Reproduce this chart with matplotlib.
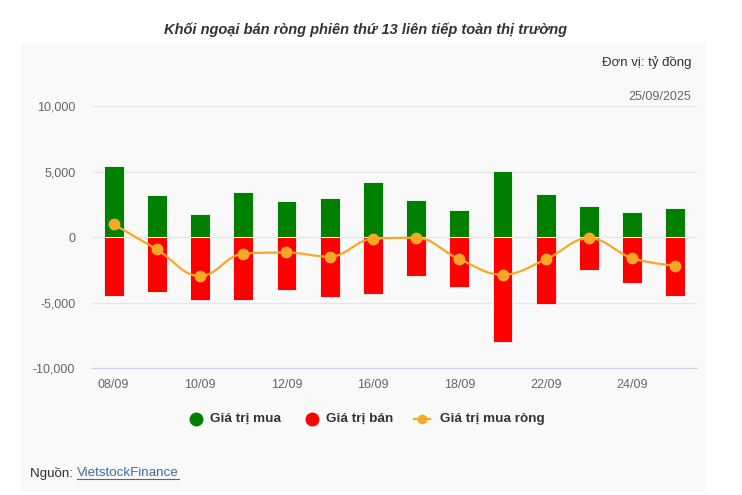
import matplotlib.pyplot as plt
import numpy as np
from matplotlib.patches import Rectangle
from matplotlib.path import Path
from matplotlib.patches import PathPatch
from matplotlib.lines import Line2D

plt.rcParams['font.family'] = ['Liberation Sans', 'DejaVu Sans']

# data (ty dong)
dates = ['08/09', '09/09', '10/09', '11/09', '12/09', '15/09', '16/09',
         '17/09', '18/09', '19/09', '22/09', '23/09', '24/09', '25/09']
buy = [5440, 3200, 1730, 3460, 2770, 3020, 4240, 2870, 2090, 5080, 3280, 2410, 1900, 2190]
sell = [-4490, -4160, -4770, -4780, -4010, -4590, -4340, -2970, -3810, -8020, -5100, -2540, -3470, -4490]
net = [970, -940, -2970, -1260, -1170, -1490, -120, -50, -1680, -2860, -1700, -80, -1600, -2180]
yticks = [-10000, -5000, 0, 5000, 10000]

W, H = 742, 495
GREEN = '#008000'
RED = '#ff0000'
ORANGE = '#f7a825'


def fx(px):
    return px / W


def fy(py):
    return 1 - py / H


def spline_path(xs, ys, smoothing=1.5):
    # highcharts style spline through the points
    n = len(xs)
    left = [(xs[i], ys[i]) for i in range(n)]
    right = [(xs[i], ys[i]) for i in range(n)]
    denom = smoothing + 1
    for i in range(1, n - 1):
        px, py = xs[i], ys[i]
        lx, ly = xs[i - 1], ys[i - 1]
        nx, ny = xs[i + 1], ys[i + 1]
        lcx = (smoothing * px + lx) / denom
        lcy = (smoothing * py + ly) / denom
        rcx = (smoothing * px + nx) / denom
        rcy = (smoothing * py + ny) / denom
        if rcx != lcx:
            corr = ((rcy - lcy) * (rcx - px)) / (rcx - lcx) + py - rcy
            lcy += corr
            rcy += corr
        if lcy > ly and lcy > py:
            lcy = max(ly, py)
            rcy = 2 * py - lcy
        elif lcy < ly and lcy < py:
            lcy = min(ly, py)
            rcy = 2 * py - lcy
        if rcy > ny and rcy > py:
            rcy = max(ny, py)
            lcy = 2 * py - rcy
        elif rcy < ny and rcy < py:
            rcy = min(ny, py)
            lcy = 2 * py - rcy
        left[i] = (lcx, lcy)
        right[i] = (rcx, rcy)
    verts = [(xs[0], ys[0])]
    codes = [Path.MOVETO]
    for i in range(1, n):
        verts += [right[i - 1], left[i], (xs[i], ys[i])]
        codes += [Path.CURVE4] * 3
    return Path(verts, codes)


fig = plt.figure(figsize=(W / 100, H / 100), dpi=100)
fig.patch.set_facecolor('white')

# grey panel behind the chart
fig.patches.append(Rectangle((fx(21), fy(492)), fx(706) - fx(21), fy(43) - fy(492),
                             transform=fig.transFigure, facecolor='#f9f9f9',
                             edgecolor='none', zorder=-10))

ax = fig.add_axes([fx(92), fy(368.3), fx(697) - fx(92), fy(106) - fy(368.3)])
ax.set_facecolor('none')
ax.set_zorder(1)

x = np.arange(len(dates))
ax.bar(x, buy, width=0.46, color=GREEN, edgecolor='white', linewidth=0.6, zorder=3)
ax.bar(x, sell, width=0.46, color=RED, edgecolor='white', linewidth=0.6, zorder=3)

ax.add_patch(PathPatch(spline_path(list(x), net), facecolor='none', edgecolor=ORANGE,
                       linewidth=1.6, zorder=4))
ax.plot(x, net, 'o', color=ORANGE, markersize=7.5, zorder=5)

ax.set_xlim(-0.5, len(dates) - 0.5)
ax.set_ylim(-10000, 10000)
ax.set_yticks(yticks)
ax.set_yticklabels([f'{v:,}' for v in yticks])
ax.set_xticks(x[::2])
ax.set_xticklabels(dates[::2])
for v in yticks[1:]:
    ax.axhline(v, color='#e6e6e6', linewidth=1, zorder=1)
for s in ['top', 'right', 'left']:
    ax.spines[s].set_visible(False)
ax.spines['bottom'].set_color('#ccd6eb')
ax.spines['bottom'].set_linewidth(1)
ax.tick_params(axis='both', length=0, labelsize=9, colors='#666666')
ax.tick_params(axis='y', pad=12)
ax.tick_params(axis='x', pad=8)

# texts
fig.text(fx(366), fy(30), 'Khối ngoại bán ròng phiên thứ 13 liên tiếp toàn thị trường',
         ha='center', va='center', fontsize=10.5, fontweight='bold', fontstyle='italic',
         color='#333333')
fig.text(fx(691), fy(63), 'Đơn vị: tỷ đồng', ha='right', va='center', fontsize=9.5,
         color='#333333')
fig.text(fx(691), fy(97), '25/09/2025', ha='right', va='center', fontsize=9,
         color='#666666')

# legend
legend_items = [(196, GREEN, 'Giá trị mua', 'dot'),
                (312, RED, 'Giá trị bán', 'dot'),
                (422, ORANGE, 'Giá trị mua ròng', 'line')]
for px, col, label, kind in legend_items:
    if kind == 'dot':
        fig.add_artist(Line2D([fx(px)], [fy(419)], marker='o', markersize=9, color=col,
                              linestyle='none', transform=fig.transFigure))
        tx = px + 14
    else:
        fig.add_artist(Line2D([fx(px - 8), fx(px + 8)], [fy(419), fy(419)], color=col,
                              linewidth=1.6, marker=None, transform=fig.transFigure))
        fig.add_artist(Line2D([fx(px)], [fy(419)], marker='o', markersize=6, color=col,
                              linestyle='none', transform=fig.transFigure))
        tx = px + 18
    fig.text(fx(tx), fy(419), label, ha='left', va='center', fontsize=9.7,
             fontweight='bold', color='#333333')

# source
t = fig.text(fx(30), fy(473), 'Nguồn: ', ha='left', va='center', fontsize=9.6,
             color='#333333')
fig.canvas.draw()
bb = t.get_window_extent()
t2 = fig.text(bb.x1 / W, fy(473), 'VietstockFinance', ha='left', va='center',
              fontsize=9.6, color='#3a6ea5')
bb2 = t2.get_window_extent(renderer=fig.canvas.get_renderer())
fig.add_artist(Line2D([bb2.x0 / W, bb2.x1 / W], [(bb2.y0 + 0.5) / H, (bb2.y0 + 0.5) / H],
                      color='#3a6ea5', linewidth=0.8, transform=fig.transFigure))

fig.savefig('out.png', dpi=100)
